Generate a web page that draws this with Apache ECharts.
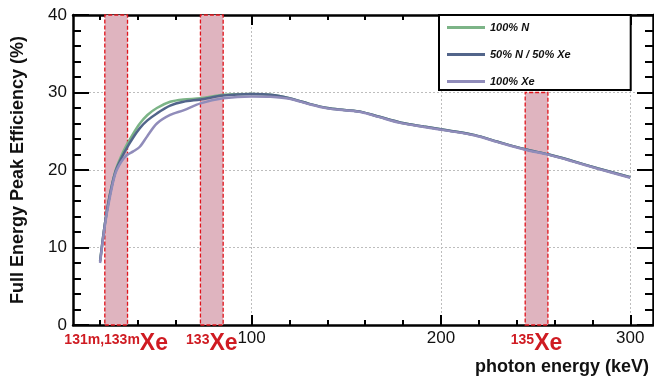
<!DOCTYPE html>
<html><head><meta charset="utf-8">
<script src="https://cdn.jsdelivr.net/npm/echarts@6/dist/echarts.min.js"></script>
<style>html,body{margin:0;padding:0;background:#fff}#c{width:654px;height:376px}</style>
</head><body><div id="c"></div>
<script>
// photon energy (keV)
const energies = [20,22.5,25,28,31,34,37.5,41,45,50,57,64,73,85,100,110,120,131,140,149,158,167,179,191,204,218,230,244,257,269,283,300];
// full energy peak efficiency (%)
const effN   = [8.2,13.0,16.6,19.8,21.7,23.2,24.7,26.0,27.1,28.0,28.8,29.1,29.25,29.7,29.8,29.7,29.25,28.5,28.0,27.75,27.5,26.9,26.1,25.6,25.1,24.5,23.65,22.7,22.0,21.2,20.2,19.06];
const effMix = [8.2,13.0,16.6,19.7,21.4,22.8,24.2,25.4,26.4,27.3,28.3,28.8,29.1,29.6,29.8,29.7,29.25,28.5,28.0,27.75,27.5,26.9,26.1,25.6,25.1,24.5,23.65,22.7,22.0,21.2,20.2,19.06];
const effXe  = [8.0,12.8,16.3,19.5,21.0,21.9,22.4,23.0,24.4,26.0,27.1,27.7,28.6,29.25,29.5,29.45,29.2,28.45,27.95,27.7,27.45,26.85,26.05,25.55,25.05,24.45,23.6,22.65,21.95,21.15,20.15,19.0];
const seriesNames = ['100% N','50% N / 50% Xe','100% Xe'];
const xMajorTicks = [100,200,300];
const xMinorTicks = [20,40,60,80,100,120,140,160,180,200,220,240,260,280,300];
const bandFrom = [22.5,73,244.5];
const bandTo   = [34.5,85,256.5];
const bandTop  = [40,40,30];
const bandIsotope = ['131m,133m','133','135'];

const XMIN = 5.7, XMAX = 312;
const FONT = 'Liberation Sans, Arial, Helvetica, sans-serif';
const colors = ['#7cb487','#52658a','#908cba'];
const red = '#cf1b22';
const gridStyle = {show:true, lineStyle:{color:'#bdbdbd', type:[2,2], width:1}};

function pairs(v){ return energies.map((e,i)=>[e,v[i]]); }

const chart = echarts.init(document.getElementById('c'), null, {renderer:'canvas'});

function xAx(pos, ticks, len, labels, split, line){
  return {
    type:'value', position:pos, min:XMIN, max:XMAX,
    axisLine:{show:line, onZero:false, lineStyle:{color:'#000', width:2.5}},
    axisTick:{show:true, inside:true, length:len, customValues:ticks, lineStyle:{color:'#000', width:2}},
    axisLabel:{show:labels, customValues:xMajorTicks, margin:5, fontSize:17, color:'#111', fontFamily:FONT},
    splitLine: split ? {show:true, lineStyle:{color:'#bdbdbd', type:[2,2], width:1}} : {show:false},
    minorTick:{show:false}
  };
}

const option = {
  animation:false,
  backgroundColor:'#fff',
  textStyle:{fontFamily:FONT},
  title:{text:'photon energy (keV)', right:5, bottom:0, padding:0,
    textStyle:{fontSize:18, fontWeight:'bold', color:'#111', fontFamily:FONT}},
  grid:{left:73, right:1, top:15, bottom:51},
  legend:{
    data:seriesNames, orient:'vertical', left:439, top:15,
    backgroundColor:'#fff', borderColor:'#000', borderWidth:2,
    padding:[7,60,3,8], itemGap:16, itemWidth:38, itemHeight:3,
    icon:'rect',
    textStyle:{fontSize:11, fontStyle:'italic', fontWeight:'bold', color:'#111', fontFamily:FONT}
  },
  xAxis:[
    xAx('bottom', xMinorTicks, 5, false, false, true),
    xAx('bottom', xMajorTicks, 10, true, true, false),
    xAx('top', xMinorTicks, 5, false, false, true),
    xAx('top', xMajorTicks, 10, false, false, false)
  ],
  yAxis:[
    {type:'value', position:'left', min:0, max:40, interval:10,
      name:'Full Energy Peak Efficiency (%)', nameLocation:'middle', nameGap:46,
      nameTextStyle:{fontSize:18, fontWeight:'bold', color:'#111', fontFamily:FONT},
      axisLine:{show:true, lineStyle:{color:'#000', width:2.5}},
      axisTick:{show:true, inside:true, length:16, lineStyle:{color:'#000', width:2}},
      minorTick:{show:true, splitNumber:5, length:8, lineStyle:{color:'#000', width:2}},
      axisLabel:{margin:6, fontSize:17, color:'#111', fontFamily:FONT},
      splitLine:gridStyle},
    {type:'value', position:'right', min:0, max:40, interval:10,
      axisLine:{show:true, lineStyle:{color:'#000', width:2.5}},
      axisTick:{show:true, inside:true, length:16, lineStyle:{color:'#000', width:2}},
      minorTick:{show:true, splitNumber:5, length:8, lineStyle:{color:'#000', width:2}},
      axisLabel:{show:false}, splitLine:{show:false}}
  ],
  series:[
    {type:'line', name:'bands', xAxisIndex:1, yAxisIndex:0, data:[], z:1, silent:true,
      markArea:{silent:true,
        itemStyle:{color:'#dfb4bf', borderColor:'#e0141c', borderWidth:1.3, borderType:[4,2]},
        label:{show:true, position:'bottom', distance:7,
          rich:{
            s:{fontSize:14, fontWeight:'bold', color:red, fontFamily:FONT, verticalAlign:'top', lineHeight:23},
            x:{fontSize:23, fontWeight:'bold', color:red, fontFamily:FONT, verticalAlign:'bottom', lineHeight:23}
          }},
        data: bandFrom.map((f,i)=>[
          {xAxis:f, yAxis:0, label:{formatter:'{s|'+bandIsotope[i]+'}{x|Xe}'}},
          {xAxis:bandTo[i], yAxis:bandTop[i]}
        ])
      }},
    {type:'line', name:seriesNames[0], xAxisIndex:1, data:pairs(effN), smooth:0.3, showSymbol:false, z:3,
      color:colors[0], lineStyle:{width:2.5, color:colors[0]}},
    {type:'line', name:seriesNames[1], xAxisIndex:1, data:pairs(effMix), smooth:0.3, showSymbol:false, z:4,
      color:colors[1], lineStyle:{width:2.5, color:colors[1]}},
    {type:'line', name:seriesNames[2], xAxisIndex:1, data:pairs(effXe), smooth:0.3, showSymbol:false, z:5,
      color:colors[2], lineStyle:{width:2.5, color:colors[2]}}
  ]
};
chart.setOption(option);
</script></body></html>
